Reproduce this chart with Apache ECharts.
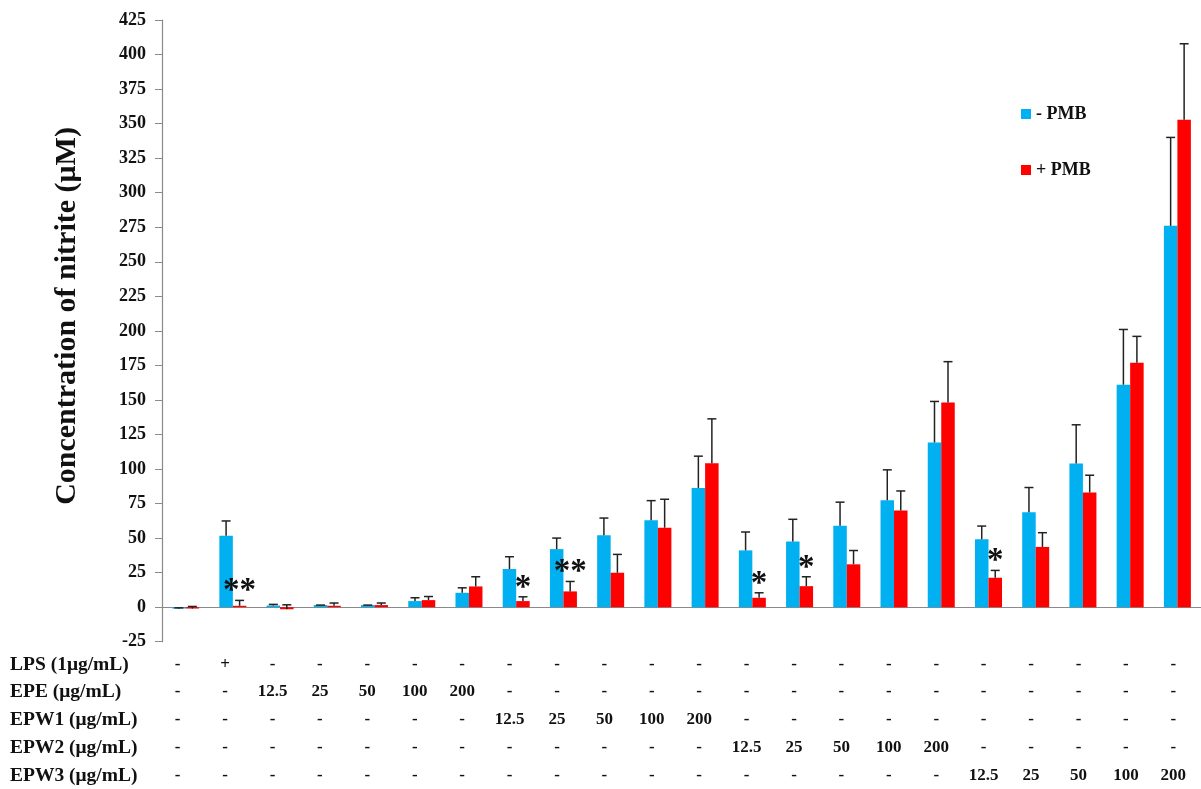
<!DOCTYPE html>
<html>
<head>
<meta charset="utf-8">
<script src="https://cdn.jsdelivr.net/npm/echarts@6/dist/echarts.min.js"></script>
<style>
html,body{margin:0;padding:0;background:#fff;}
#chart{width:1201px;height:789px;}
</style>
</head>
<body>
<div id="chart"></div>
<script>
// ---------- DATA ----------
const categories = ['G1','G2','G3','G4','G5','G6','G7','G8','G9','G10','G11','G12','G13','G14','G15','G16','G17','G18','G19','G20','G21','G22'];
const minusPMB = [-1, 51.7, 1.2, 1.5, 1.5, 4.4, 10.4, 27.6, 42, 52, 62.9, 86.3, 41.1, 47.6, 59, 77.4, 119.2, 49.1, 68.7, 104, 161, 276];
const minusErr = [0.5, 10.7, 0.8, 0, 0, 2.4, 3.6, 8.9, 8, 12.5, 14.2, 23, 13.3, 16, 17, 22, 29.7, 9.6, 17.9, 28, 40, 64];
const plusPMB  = [-1, 1, -1.5, 1, 1.5, 5.1, 15, 4.4, 11.4, 24.9, 57.5, 104.2, 6.8, 15.2, 31, 69.9, 148.2, 21.3, 43.6, 83, 177, 352.8];
const plusErr  = [1.5, 3.9, 3.2, 2, 1.5, 2.6, 7, 3.1, 7.2, 13.3, 20.6, 32.1, 3.6, 6.8, 10, 14.2, 29.5, 5.3, 10.3, 12.5, 19, 55];
const stars    = ['', '**', '', '', '', '', '', '*', '**', '', '', '', '*', '*', '', '', '', '*', '', '', '', ''];
const seriesNames = ['- PMB', '+ PMB'];
const yTicks = {min: -25, max: 425, interval: 25};
const yTitle = 'Concentration of nitrite (\u03bcM)';
const rowHeaders = ['LPS (1\u03bcg/mL)', 'EPE (\u03bcg/mL)', 'EPW1 (\u03bcg/mL)', 'EPW2 (\u03bcg/mL)', 'EPW3 (\u03bcg/mL)'];
const rowLPS  = ['-','+','-','-','-','-','-','-','-','-','-','-','-','-','-','-','-','-','-','-','-','-'];
const rowEPE  = ['-','-','12.5','25','50','100','200','-','-','-','-','-','-','-','-','-','-','-','-','-','-','-'];
const rowEPW1 = ['-','-','-','-','-','-','-','12.5','25','50','100','200','-','-','-','-','-','-','-','-','-','-'];
const rowEPW2 = ['-','-','-','-','-','-','-','-','-','-','-','-','12.5','25','50','100','200','-','-','-','-','-'];
const rowEPW3 = ['-','-','-','-','-','-','-','-','-','-','-','-','-','-','-','-','-','12.5','25','50','100','200'];
const tableRows = [rowLPS, rowEPE, rowEPW1, rowEPW2, rowEPW3];

// ---------- LAYOUT ----------
const FONT = '"Liberation Serif", "Times New Roman", serif';
const BLUE = '#00B0F0', RED = '#FF0000';
const GRID = {left: 162, right: 0, top: 20, bottom: 147.3};
const TABLE_GRID = {left: 154, right: 4, top: 20, bottom: 147.3};
const BAR_W = 13.5;
const rowY = [665, 692, 720, 748, 776];
const gridBottomY = 789 - GRID.bottom;

const chart = echarts.init(document.getElementById('chart'));

function errSeries(vals, errs, sign, starArr) {
  return {
    type: 'custom',
    xAxisIndex: 0, yAxisIndex: 0,
    data: vals.map((v, i) => [i, v, v + errs[i], starArr ? starArr[i] : '']),
    z: 5,
    silent: true,
    renderItem: function (params, api) {
      const i = api.value(0);
      const base = api.coord([i, api.value(1)]);
      const top = api.coord([i, api.value(2)]);
      const x = base[0] + sign * BAR_W / 2;
      const children = [];
      const lineStyle = {stroke: '#222', lineWidth: 1.5};
      if (Math.abs(top[1] - base[1]) > 0.5) {
        children.push({type: 'line', shape: {x1: x, y1: base[1], x2: x, y2: top[1]}, style: lineStyle});
      }
      children.push({type: 'line', shape: {x1: x - 4.5, y1: top[1], x2: x + 4.5, y2: top[1]}, style: lineStyle});
      const s = api.value(3);
      if (s) {
        children.push({type: 'text', x: x, y: top[1] + 8, style: {
          text: s, fill: '#111', font: 'bold 33px ' + FONT, align: 'center', verticalAlign: 'bottom'
        }});
      }
      return {type: 'group', children: children};
    }
  };
}

const xAxes = [{
  type: 'category', data: categories, gridIndex: 0,
  axisLine: {onZero: true, lineStyle: {color: '#8a8a8a', width: 1.2}},
  axisTick: {show: false}, axisLabel: {show: false}, splitLine: {show: false}
}];
tableRows.forEach((row, r) => {
  xAxes.push({
    type: 'category', data: row, gridIndex: 1, position: 'bottom',
    offset: rowY[r] - gridBottomY,
    axisLine: {show: false, onZero: false}, axisTick: {show: false}, splitLine: {show: false},
    axisLabel: {interval: 0, margin: 0, verticalAlign: 'middle', color: '#111',
      fontFamily: FONT, fontWeight: 'bold', fontSize: 17}
  });
});

const option = {
  backgroundColor: '#fff',
  animation: false,
  grid: [GRID, TABLE_GRID],
  legend: {
    data: seriesNames, orient: 'vertical', left: 1016, top: 100, itemGap: 38,
    icon: 'rect', itemWidth: 10, itemHeight: 10,
    textStyle: {fontFamily: FONT, fontWeight: 'bold', fontSize: 18, color: '#111'}
  },
  xAxis: xAxes,
  yAxis: [{
    type: 'value', gridIndex: 0, min: yTicks.min, max: yTicks.max, interval: yTicks.interval,
    axisLine: {show: true, lineStyle: {color: '#8a8a8a', width: 1.2}},
    axisTick: {show: true, length: 7, lineStyle: {color: '#8a8a8a'}},
    splitLine: {show: false},
    axisLabel: {margin: 16, color: '#111', fontFamily: FONT, fontWeight: 'bold', fontSize: 18}
  }, {
    type: 'value', gridIndex: 1, min: yTicks.min, max: yTicks.max, interval: yTicks.interval,
    show: false
  }],
  graphic: [
    {type: 'text', x: 67, y: 316, rotation: Math.PI / 2,
     style: {text: yTitle, font: 'bold 30px ' + FONT, fill: '#111', align: 'center', verticalAlign: 'middle'}}
  ].concat(rowHeaders.map((h, r) => ({
    type: 'text', x: 10, y: rowY[r],
    style: {text: h, font: 'bold 19.5px ' + FONT, fill: '#111', align: 'left', verticalAlign: 'middle'}
  }))),
  series: [
    {name: seriesNames[0], type: 'bar', data: minusPMB, barWidth: BAR_W, barGap: '0%',
     itemStyle: {color: BLUE}},
    {name: seriesNames[1], type: 'bar', data: plusPMB, barWidth: BAR_W, barGap: '0%',
     itemStyle: {color: RED}},
    errSeries(minusPMB, minusErr, -1, null),
    errSeries(plusPMB, plusErr, 1, stars)
  ]
};
chart.setOption(option);
</script>
</body>
</html>
